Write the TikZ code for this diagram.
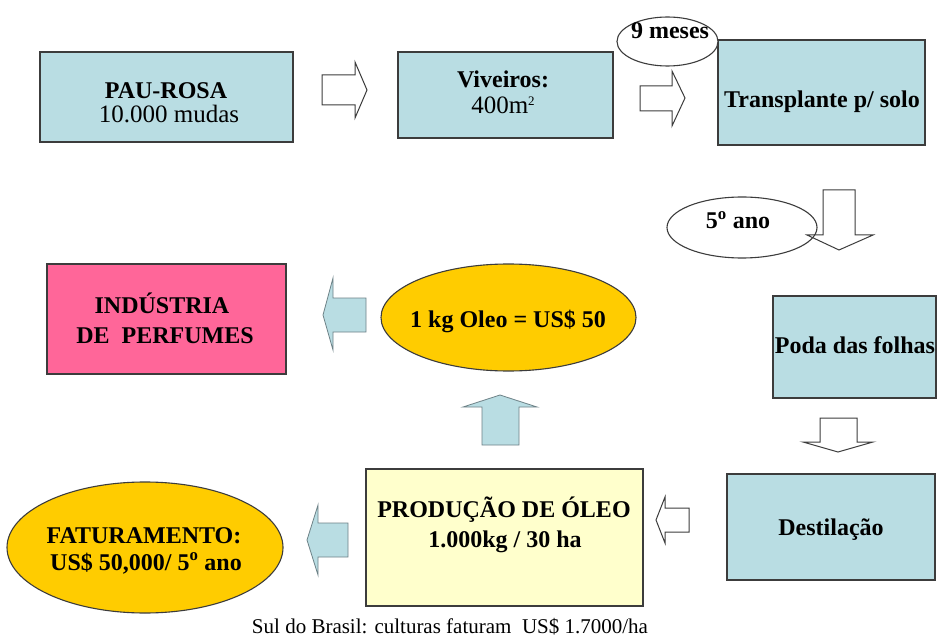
\documentclass[tikz,border=0pt]{standalone}
\usepackage{fontspec}
\setmainfont{Liberation Serif}
\usetikzlibrary{shapes.geometric}
\definecolor{boxblue}{RGB}{185,221,227}
\definecolor{boxpink}{RGB}{255,102,153}
\definecolor{boxgold}{RGB}{255,204,0}
\definecolor{boxyellow}{RGB}{255,255,204}
\definecolor{edgegray}{RGB}{60,60,60}
\definecolor{arrowedge}{RGB}{110,130,135}
\tikzset{
  boxbase/.style={rectangle, draw=edgegray, line width=1.1pt, inner sep=0pt},
  bluebox/.style={boxbase, fill=boxblue},
  pinkbox/.style={boxbase, fill=boxpink},
  yellowbox/.style={boxbase, fill=boxyellow},
  goldell/.style={ellipse, draw=edgegray, line width=1.1pt, fill=boxgold, inner sep=0pt},
  whiteell/.style={ellipse, draw=edgegray, line width=1.1pt, fill=white, inner sep=0pt},
  bt/.style={font=\bfseries\fontsize{24}{24}\selectfont, anchor=base, inner sep=0pt},
  rt/.style={font=\fontsize{25}{25}\selectfont, anchor=base, inner sep=0pt},
  openarrow/.style={draw=edgegray, line width=1pt, fill=none, line join=miter},
  bluearrow/.style={draw=arrowedge, line width=0.8pt, fill=boxblue, line join=miter},
}
\begin{document}
\begin{tikzpicture}[x=1pt,y=-1pt]
\useasboundingbox (0,0) rectangle (942,636);
\fill[white] (0,0) rectangle (942,636);

% boxes
\node[bluebox, minimum width=253pt, minimum height=90pt] (paurosa) at (166.5,97) {};
\node[bluebox, minimum width=215pt, minimum height=86pt] (viveiros) at (505.5,95) {};
\node[bluebox, minimum width=207pt, minimum height=105pt] (transp) at (821.5,92.5) {};
\node[bluebox, minimum width=163pt, minimum height=102pt] (poda) at (854.5,347) {};
\node[bluebox, minimum width=208pt, minimum height=106pt] (destil) at (831,527) {};
\node[yellowbox, minimum width=277pt, minimum height=137pt] (prod) at (504.5,537.5) {};
\node[pinkbox, minimum width=239pt, minimum height=110pt] (ind) at (166.5,319) {};
\node[goldell, minimum width=255pt, minimum height=107pt] (oleo) at (508.5,317.5) {};
\node[goldell, minimum width=276pt, minimum height=131pt] (fat) at (145,547.5) {};
\node[whiteell, minimum width=101pt, minimum height=49pt] (meses) at (667.5,41.5) {};
\node[whiteell, minimum width=150pt, minimum height=61pt] (ano) at (742,227.5) {};

% open arrows
\draw[openarrow] (322,75) -- (355,75) -- (355,62) -- (367,90) -- (355,118) -- (355,105) -- (322,105) -- cycle;
\draw[openarrow] (640,86) -- (672,86) -- (672,71) -- (685,98) -- (672,126) -- (672,111) -- (640,111) -- cycle;
\draw[openarrow] (823,190) -- (855,190) -- (855,235) -- (873,235) -- (839,250) -- (807,235) -- (823,235) -- cycle;
\draw[openarrow] (820,418) -- (857,418) -- (857,442) -- (873,442) -- (838,452) -- (803,442) -- (820,442) -- cycle;
\draw[openarrow] (689,508) -- (665,508) -- (665,497) -- (656,520) -- (665,543) -- (665,532) -- (689,532) -- cycle;

% blue arrows
\draw[bluearrow] (366,298) -- (333,298) -- (333,278) -- (323,315) -- (333,350) -- (333,332) -- (366,332) -- cycle;
\draw[bluearrow] (348,523) -- (318,523) -- (318,505) -- (307,540) -- (318,575) -- (318,557) -- (348,557) -- cycle;
\draw[bluearrow] (482,445) -- (482,407) -- (463,407) -- (500,395) -- (537,407) -- (519,407) -- (519,445) -- cycle;

% texts
\node[bt] (t1) at (166,99) {PAU-ROSA};
\node[rt] (t2) at (169,123) {10.000 mudas};
\node[bt] (t3) at (503,88) {Viveiros:};
\node[rt] (t4) at (503,114) {400m\raisebox{8pt}{\fontsize{13}{13}\selectfont 2}};
\node[bt] (t5) at (670,39) {9 meses};
\node[bt] (t6) at (822,108) {Transplante p/ solo};
\node[bt] (t7) at (738,229) {5\textsuperscript{o} ano};
\node[bt] (t8) at (855,353) {Poda das folhas};
\node[bt] (t9) at (831,535) {Destilação};
\node[bt] (t10) at (162,313) {INDÚSTRIA};
\node[bt] (t11) at (165,343) {DE\ \ PERFUMES};
\node[bt] (t12) at (508,327) {1 kg Oleo = US\$ 50};
\node[bt] (t13) at (144,543) {FATURAMENTO:};
\node[bt] (t14) at (146,570) {US\$ 50,000/ 5\textsuperscript{o} ano};
\node[bt] (t15) at (504,517) {PRODUÇÃO DE ÓLEO};
\node[bt] (t16) at (505,547) {1.000kg / 30 ha};
\node[font=\fontsize{21}{21}\selectfont, anchor=base, inner sep=0pt] (t17) at (450,633) {Sul do Brasil: culturas faturam\ \ US\$ 1.7000/ha};
\end{tikzpicture}
\end{document}
